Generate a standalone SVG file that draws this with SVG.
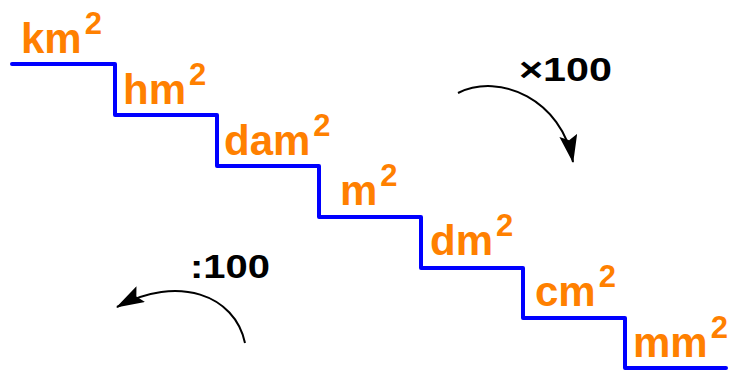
<svg xmlns="http://www.w3.org/2000/svg" width="738" height="373" viewBox="0 0 738 373">
<style>
.u{font-family:"Liberation Sans",Arial,sans-serif;font-weight:bold;font-size:42px;fill:#ff8000}
.s{font-size:31px}
.op{font-family:"Liberation Sans",Arial,sans-serif;font-weight:bold;font-size:33px;fill:#000}
.arc{fill:none;stroke:#000;stroke-width:2}
.stair{fill:none;stroke:#0000ff;stroke-width:4;stroke-linejoin:round;stroke-linecap:round}
</style>
<defs>
<marker id="ah" markerUnits="userSpaceOnUse" markerWidth="28" markerHeight="18" viewBox="0 0 28 18" refX="27" refY="9" orient="auto">
<path d="M0,0 L28,9 L0,18 L5,9 z" fill="#000"/>
</marker>
</defs>
<g id="connectors">
<path id="stairs" class="stair" d="M12,64 H115 V115 H217 V166 H319 V217 H421 V268 H523 V318 H625 V368 H726"/>
<path id="arrow-mul" class="arc" d="M458,93 C500,72 562,100 573,162" marker-end="url(#ah)"/>
<path id="arrow-div" class="arc" d="M245,343 C235,295 178,274 117,307" marker-end="url(#ah)"/>
</g>
<g id="km2"><text class="u" x="21" y="53">km<tspan class="s" dx="3" dy="-19">2</tspan></text></g>
<g id="hm2"><text class="u" x="123" y="104">hm<tspan class="s" dx="3" dy="-19">2</tspan></text></g>
<g id="dam2"><text class="u" x="224" y="155">dam<tspan class="s" dx="3" dy="-19">2</tspan></text></g>
<g id="m2"><text class="u" x="340" y="205">m<tspan class="s" dx="3" dy="-19">2</tspan></text></g>
<g id="dm2"><text class="u" x="430" y="255">dm<tspan class="s" dx="3" dy="-19">2</tspan></text></g>
<g id="cm2"><text class="u" x="535" y="306">cm<tspan class="s" dx="3" dy="-19">2</tspan></text></g>
<g id="mm2"><text class="u" x="633" y="357">mm<tspan class="s" dx="3" dy="-19">2</tspan></text></g>
<g id="mul"><text class="op" x="519" y="81" textLength="93" lengthAdjust="spacingAndGlyphs">×100</text></g>
<g id="div"><text class="op" x="190" y="278" textLength="80" lengthAdjust="spacingAndGlyphs">:100</text></g>
</svg>
